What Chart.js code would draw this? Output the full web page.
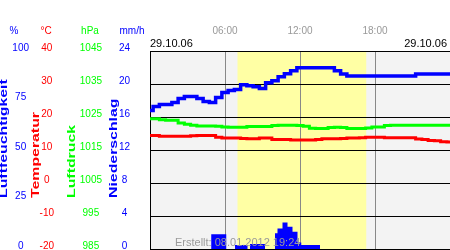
<!DOCTYPE html>
<html>
<head>
<meta charset="utf-8">
<script src="https://cdn.jsdelivr.net/npm/chart.js@4.4.1/dist/chart.umd.min.js"></script>
<style>
  html, body { margin: 0; padding: 0; background: #ffffff; }
  canvas { display: block; }
</style>
</head>
<body>
<canvas id="wetter" width="450" height="250"></canvas>
<script>
// Stunden des Tages (29.10.06), halbstuendlich
const hours = [0, 0.5, 1, 1.5, 2, 2.5, 3, 3.5, 4, 4.5, 5, 5.5, 6, 6.5, 7, 7.5, 8, 8.5, 9, 9.5,
  10, 10.5, 11, 11.5, 12, 12.5, 13, 13.5, 14, 14.5, 15, 15.5, 16, 16.5, 17, 17.5, 18, 18.5, 19, 19.5,
  20, 20.5, 21, 21.5, 22, 22.5, 23, 23.5, 24];

// Luftfeuchtigkeit in %
const humidity = [70, 72, 73, 73, 74, 76, 77, 77, 76, 74.5, 74, 76.5, 79, 80, 80.5, 83, 82.5, 82, 81, 84,
  85, 87, 88.5, 90, 91.5, 91.5, 91.5, 91.5, 91.5, 91.5, 90, 88.4, 87.4, 87.4, 87.4, 87.4, 87.4, 87.4, 87.4, 87.4,
  87.4, 87.4, 87.4, 88.4, 88.4, 88.4, 88.4, 88.4, 88.4];

// Temperatur in °C
const temperature = [14.4, 14.4, 14.2, 14.2, 14.2, 14.2, 14.2, 14.3, 14.4, 14.4, 14.4, 13.9, 13.6, 13.6, 13.6, 13.5, 13.4, 13.4, 13.6, 13.6,
  13.2, 13.2, 13.2, 13.0, 13.0, 13.0, 13.0, 13.2, 13.4, 13.4, 13.4, 13.5, 13.6, 13.6, 13.7, 13.9, 13.9, 13.9, 13.7, 13.7,
  13.7, 13.7, 13.7, 13.3, 13.2, 12.9, 12.8, 12.5, 12.4];

// Luftdruck in hPa
const pressure = [1024.5, 1024.5, 1024.2, 1024.0, 1024.0, 1023.2, 1022.8, 1022.5, 1022.3, 1022.3, 1022.3, 1022.2, 1022.0, 1021.9, 1021.9, 1021.9, 1022.1, 1022.1, 1022.1, 1022.1,
  1022.4, 1022.5, 1022.5, 1022.5, 1022.4, 1022.2, 1021.6, 1021.5, 1021.5, 1021.8, 1021.9, 1021.8, 1021.5, 1021.5, 1021.5, 1021.7, 1022.0, 1022.0, 1022.4, 1022.5,
  1022.5, 1022.5, 1022.5, 1022.5, 1022.5, 1022.5, 1022.5, 1022.5, 1022.5];

// Niederschlag in mm/h (Ende der Stufe in Stunden)
const rainHours = [0, 4.9, 6.1, 6.8, 7.8, 8.0, 9.2, 10.0, 10.2, 10.6, 11.0, 11.4, 11.8, 12.1, 13.6, 24];
const rainValues = [0, 1.8, 0, 0.5, 0, 0.6, 0, 1.9, 2.5, 3.2, 2.7, 2.1, 0.8, 0.5, 0, 0];

// Tageslicht (Sonnenaufgang / -untergang in Stunden)
const sunrise = 7.0;
const sunset = 17.3;

// Achsenbeschriftung
const timeTicks = [6, 12, 18];
const dateLabel = "29.10.06";
const createdLabel = "Erstellt: 08.01.2012 19:24";

const BLUE = "#0000ff";
const RED = "#ff0000";
const GREEN = "#00ff00";

function toPoints(xs, ys) {
  return xs.map((x, i) => ({ x: x, y: ys[i] }));
}

function hh(v) {
  return (v < 10 ? "0" : "") + v + ":00";
}

const backgroundPlugin = {
  id: "background",
  beforeDraw(chart) {
    const { ctx, chartArea: a, scales } = chart;
    const x = scales.x;
    ctx.save();
    ctx.fillStyle = "#f3f3f3";
    ctx.fillRect(a.left, a.top, a.right - a.left, a.bottom - a.top);
    const x1 = x.getPixelForValue(sunrise);
    const x2 = x.getPixelForValue(sunset);
    ctx.fillStyle = "#ffffa4";
    ctx.fillRect(x1, a.top, x2 - x1, a.bottom - a.top);
    ctx.restore();
  },
};

const labelsPlugin = {
  id: "labels",
  afterDraw(chart) {
    const { ctx, chartArea: a } = chart;
    ctx.save();

    // Einheiten ueber den Achsen
    ctx.font = "10px 'Liberation Sans', Arial, sans-serif";
    ctx.textAlign = "center";
    ctx.textBaseline = "alphabetic";
    [["%", BLUE, 14], ["°C", RED, 46], ["hPa", GREEN, 90], ["mm/h", BLUE, 132]].forEach(([t, c, x]) => {
      ctx.fillStyle = c;
      ctx.fillText(t, x, 34);
    });

    // Datum links und rechts
    ctx.font = "11px 'Liberation Sans', Arial, sans-serif";
    ctx.fillStyle = "#000000";
    ctx.textAlign = "left";
    ctx.fillText(dateLabel, a.left, 46.5);
    ctx.textAlign = "right";
    ctx.fillText(dateLabel, 447, 46.5);

    // Achsentitel, senkrecht
    ctx.font = "bold 11px 'Liberation Sans', Arial, sans-serif";
    ctx.textAlign = "left";
    ctx.textBaseline = "middle";
    [["Luftfeuchtigkeit", BLUE, 4], ["Temperatur", RED, 36], ["Luftdruck", GREEN, 72], ["Niederschlag", BLUE, 113.5]].forEach(([t, c, x]) => {
      ctx.save();
      ctx.translate(x, 198);
      ctx.rotate(-Math.PI / 2);
      ctx.scale(1.44, 1);
      ctx.fillStyle = c;
      ctx.fillText(t, 0, 0);
      ctx.restore();
    });

    // Erstellt-Vermerk
    ctx.font = "11px 'Liberation Sans', Arial, sans-serif";
    ctx.textAlign = "left";
    ctx.textBaseline = "alphabetic";
    ctx.fillStyle = "#9a9a9a";
    ctx.fillText(createdLabel, 175, 245.5);

    ctx.restore();
  },
};

function yAxis(min, max, step, color, width, pad, weight, showGrid) {
  return {
    type: "linear",
    position: "left",
    min: min,
    max: max,
    weight: weight,
    afterFit: (scale) => {
      scale.width = width;
      scale.paddingTop = 0;
      scale.paddingBottom = 0;
    },
    ticks: {
      stepSize: step,
      color: color,
      font: { size: 10 },
      crossAlign: "center",
      padding: pad,
      labelOffset: -3,
      callback: (v) => String(v),
    },
    border: { display: showGrid, color: "#000000", width: 1 },
    grid: {
      display: showGrid,
      color: "#000000",
      lineWidth: 1,
      drawTicks: false,
    },
  };
}

new Chart(document.getElementById("wetter"), {
  type: "line",
  data: {
    datasets: [
      {
        label: "Niederschlag",
        data: toPoints(rainHours, rainValues),
        yAxisID: "yRain",
        stepped: "before",
        borderWidth: 0,
        borderColor: BLUE,
        backgroundColor: BLUE,
        fill: "origin",
        pointRadius: 0,
      },
      {
        label: "Luftfeuchtigkeit",
        data: toPoints(hours, humidity),
        yAxisID: "yHum",
        stepped: "middle",
        borderColor: BLUE,
        borderWidth: 3.5,
        pointRadius: 0,
        fill: false,
      },
      {
        label: "Temperatur",
        data: toPoints(hours, temperature),
        yAxisID: "yTemp",
        stepped: "middle",
        borderColor: RED,
        borderWidth: 3,
        pointRadius: 0,
        fill: false,
      },
      {
        label: "Luftdruck",
        data: toPoints(hours, pressure),
        yAxisID: "yPress",
        stepped: "middle",
        borderColor: GREEN,
        borderWidth: 3,
        pointRadius: 0,
        fill: false,
      },
    ],
  },
  options: {
    responsive: false,
    animation: false,
    layout: { padding: { left: 0, right: 0, top: 11, bottom: 1 } },
    plugins: {
      legend: { display: false },
      tooltip: { enabled: false },
    },
    scales: {
      x: {
        type: "linear",
        position: "top",
        min: 0,
        max: 24,
        afterBuildTicks: (scale) => { scale.ticks = timeTicks.map((v) => ({ value: v })); },
        ticks: {
          color: "#999999",
          font: { size: 10 },
          padding: 14,
          maxRotation: 0,
          autoSkip: false,
          callback: (v) => hh(v),
        },
        border: { display: true, color: "#000000", width: 1 },
        grid: { color: "#888888", lineWidth: 1, drawTicks: false },
      },
      yHum: yAxis(0, 100, 25, BLUE, 34, 5, 4, false),
      yTemp: yAxis(-20, 40, 10, RED, 26, 6, 3, false),
      yPress: yAxis(985, 1045, 10, GREEN, 46, 4, 2, false),
      yRain: yAxis(0, 24, 4, BLUE, 44, 20, 1, true),
    },
  },
  plugins: [backgroundPlugin, labelsPlugin],
});
</script>
</body>
</html>
